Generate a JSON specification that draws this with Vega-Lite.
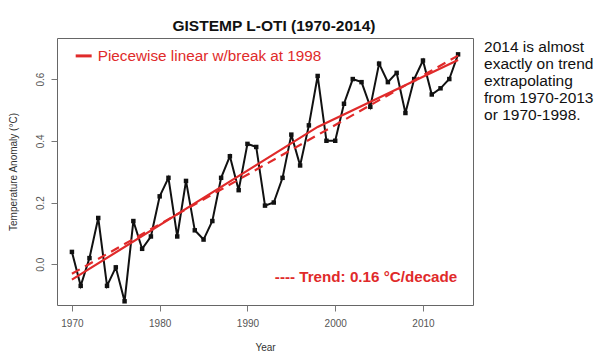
{
  "$schema": "https://vega.github.io/schema/vega-lite/v6.json",
  "width": 416,
  "height": 267,
  "autosize": "none",
  "padding": {"left": 57, "top": 38, "right": 127, "bottom": 58},
  "background": "white",
  "config": {
    "font": "Liberation Sans",
    "view": {"stroke": "#666", "strokeWidth": 1}
  },
  "title": {
    "text": "GISTEMP L-OTI (1970-2014)",
    "fontSize": 15.5,
    "fontWeight": "bold",
    "font": "Liberation Sans",
    "color": "#111",
    "anchor": "middle",
    "dx": 9,
    "offset": 4
  },
  "datasets": {
    "temps": [
      {"year": 1970, "anomaly": 0.04}, {"year": 1971, "anomaly": -0.07}, {"year": 1972, "anomaly": 0.02},
      {"year": 1973, "anomaly": 0.15}, {"year": 1974, "anomaly": -0.07}, {"year": 1975, "anomaly": -0.01},
      {"year": 1976, "anomaly": -0.12}, {"year": 1977, "anomaly": 0.14}, {"year": 1978, "anomaly": 0.05},
      {"year": 1979, "anomaly": 0.09}, {"year": 1980, "anomaly": 0.22}, {"year": 1981, "anomaly": 0.28},
      {"year": 1982, "anomaly": 0.09}, {"year": 1983, "anomaly": 0.27}, {"year": 1984, "anomaly": 0.11},
      {"year": 1985, "anomaly": 0.08}, {"year": 1986, "anomaly": 0.14}, {"year": 1987, "anomaly": 0.28},
      {"year": 1988, "anomaly": 0.35}, {"year": 1989, "anomaly": 0.24}, {"year": 1990, "anomaly": 0.39},
      {"year": 1991, "anomaly": 0.38}, {"year": 1992, "anomaly": 0.19}, {"year": 1993, "anomaly": 0.20},
      {"year": 1994, "anomaly": 0.28}, {"year": 1995, "anomaly": 0.42}, {"year": 1996, "anomaly": 0.32},
      {"year": 1997, "anomaly": 0.45}, {"year": 1998, "anomaly": 0.61}, {"year": 1999, "anomaly": 0.40},
      {"year": 2000, "anomaly": 0.40}, {"year": 2001, "anomaly": 0.52}, {"year": 2002, "anomaly": 0.60},
      {"year": 2003, "anomaly": 0.59}, {"year": 2004, "anomaly": 0.51}, {"year": 2005, "anomaly": 0.65},
      {"year": 2006, "anomaly": 0.59}, {"year": 2007, "anomaly": 0.62}, {"year": 2008, "anomaly": 0.49},
      {"year": 2009, "anomaly": 0.60}, {"year": 2010, "anomaly": 0.66}, {"year": 2011, "anomaly": 0.55},
      {"year": 2012, "anomaly": 0.57}, {"year": 2013, "anomaly": 0.60}, {"year": 2014, "anomaly": 0.68}
    ],
    "piecewise": [
      {"year": 1970, "fit": -0.05},
      {"year": 1998, "fit": 0.445},
      {"year": 2014, "fit": 0.662}
    ],
    "trend": [
      {"year": 1970, "fit": -0.031},
      {"year": 2014, "fit": 0.676}
    ]
  },
  "layer": [
    {
      "data": {"name": "temps"},
      "mark": {"type": "line", "color": "#111", "strokeWidth": 2},
      "encoding": {
        "x": {
          "field": "year", "type": "quantitative",
          "scale": {"domain": [1968.3, 2015.7], "nice": false, "zero": false},
          "axis": {
            "values": [1970, 1980, 1990, 2000, 2010], "format": "d",
            "domain": false, "grid": false, "tickSize": 6, "tickColor": "#777",
            "labelColor": "#555", "labelFontSize": 10, "labelPadding": 7,
            "title": "Year", "titleFontSize": 10, "titleFontWeight": "normal",
            "titleColor": "#333", "titlePadding": 14
          }
        },
        "y": {
          "field": "anomaly", "type": "quantitative",
          "scale": {"domain": [-0.132, 0.733], "nice": false, "zero": false},
          "axis": {
            "values": [0, 0.2, 0.4, 0.6], "format": ".1f",
            "domain": false, "grid": false, "tickSize": 6, "tickColor": "#777",
            "labelAngle": -90, "labelAlign": "center", "labelBaseline": "bottom",
            "labelColor": "#555", "labelFontSize": 10, "labelPadding": 6,
            "title": "Temperature Anomaly (°C)", "titleFontSize": 10,
            "titleFontWeight": "normal", "titleColor": "#333", "titlePadding": 17
          }
        }
      }
    },
    {
      "data": {"name": "temps"},
      "mark": {"type": "square", "size": 20, "color": "#111", "filled": true, "opacity": 1},
      "encoding": {
        "x": {"field": "year", "type": "quantitative"},
        "y": {"field": "anomaly", "type": "quantitative"}
      }
    },
    {
      "data": {"name": "trend"},
      "mark": {"type": "line", "color": "#e02a2a", "strokeWidth": 2.2, "strokeDash": [9, 6]},
      "encoding": {
        "x": {"field": "year", "type": "quantitative"},
        "y": {"field": "fit", "type": "quantitative"}
      }
    },
    {
      "data": {"name": "piecewise"},
      "mark": {"type": "line", "color": "#e02a2a", "strokeWidth": 2.2},
      "encoding": {
        "x": {"field": "year", "type": "quantitative"},
        "y": {"field": "fit", "type": "quantitative"}
      }
    },
    {
      "data": {"values": [{}]},
      "mark": {"type": "rule", "color": "#e02a2a", "strokeWidth": 3},
      "encoding": {
        "x": {"datum": 1970.43},
        "x2": {"datum": 1972.25},
        "y": {"datum": 0.675}
      }
    },
    {
      "data": {"values": [{}]},
      "mark": {"type": "text", "color": "#e02a2a", "fontSize": 15.3, "align": "left", "baseline": "middle", "text": "Piecewise linear w/break at 1998"},
      "encoding": {
        "x": {"datum": 1972.94},
        "y": {"datum": 0.675}
      }
    },
    {
      "data": {"values": [{}]},
      "mark": {"type": "text", "color": "#e02a2a", "fontSize": 15.2, "fontWeight": "bold", "align": "right", "baseline": "middle", "text": "---- Trend: 0.16 °C/decade"},
      "encoding": {
        "x": {"datum": 2013.91},
        "y": {"datum": -0.042}
      }
    },
    {
      "data": {"values": [{}]},
      "mark": {"type": "text", "color": "#111", "fontSize": 15.5, "align": "left", "baseline": "middle", "lineHeight": 17, "clip": false,
        "text": ["2014 is almost", "exactly on trend", "extrapolating", "from 1970-2013", "or 1970-1998."]},
      "encoding": {
        "x": {"datum": 2016.96},
        "y": {"datum": 0.705}
      }
    }
  ]
}
